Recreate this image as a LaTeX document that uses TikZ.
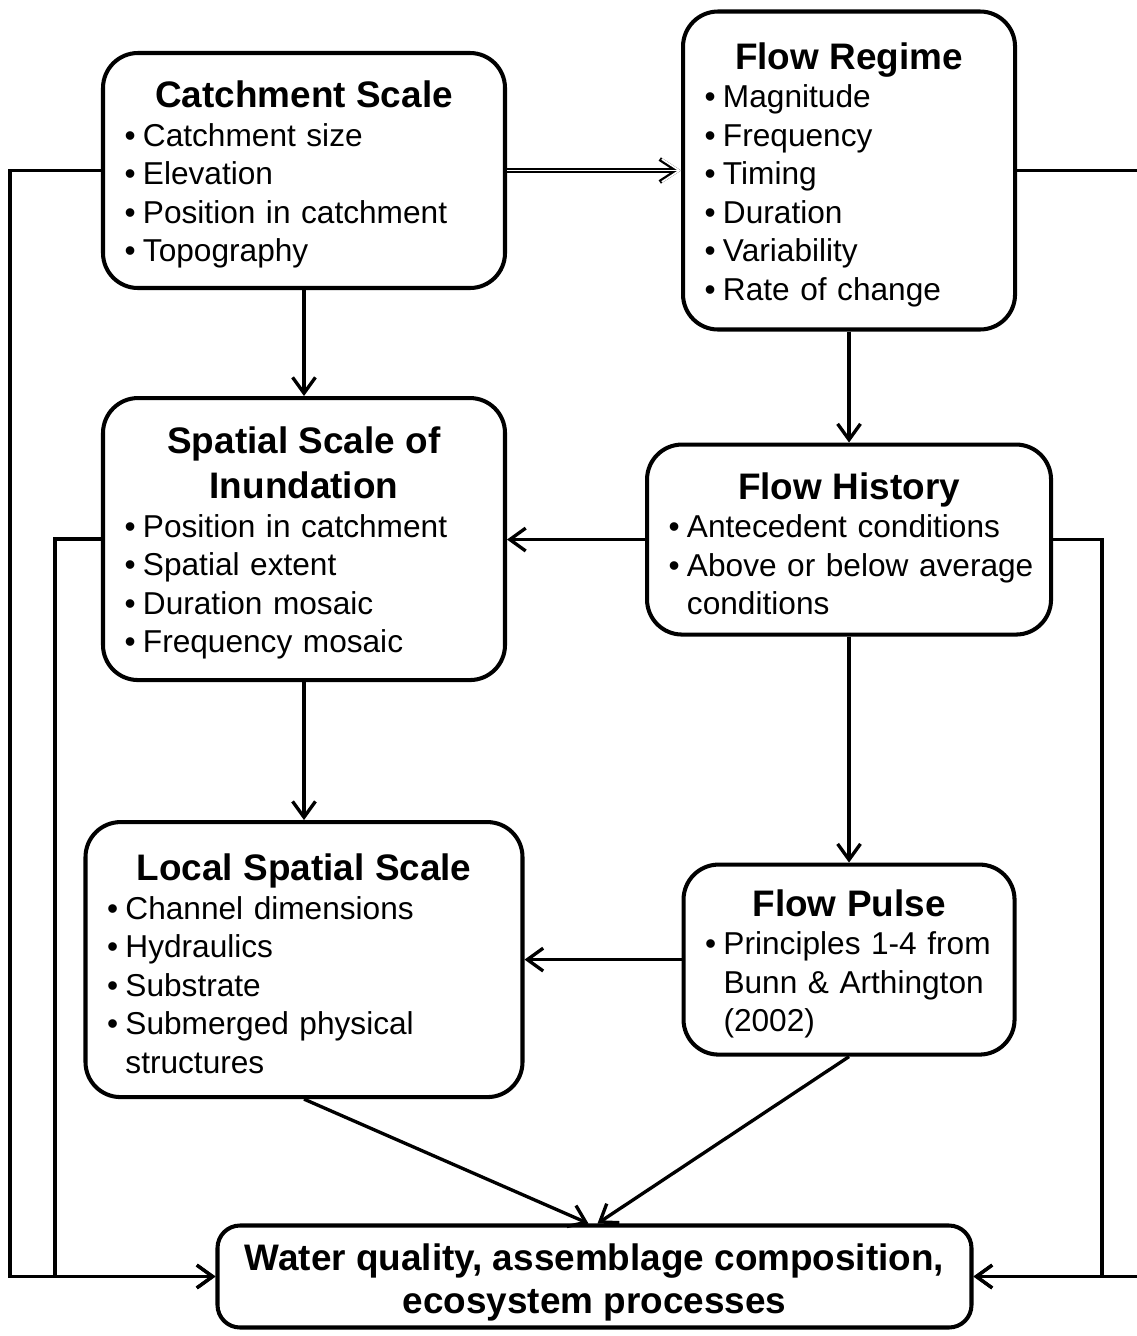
\documentclass[tikz,border=0pt]{standalone}
\usepackage{fontspec}
\setmainfont{Liberation Sans}
\usepackage{tikz}
\usetikzlibrary{arrows.meta}
\usetikzlibrary{positioning}
\newcommand{\headfont}{\fontsize{21pt}{25.6pt}\selectfont\bfseries}
\newcommand{\heading}[1]{{\centering\headfont\rule{0pt}{20pt}#1\par}}
\newcommand{\bpt}[1]{\par\noindent\makebox[10.5pt][l]{\textbullet}\mbox{#1}}
\newcommand{\bcont}[1]{\par\noindent\hspace*{10.5pt}\mbox{#1}}
\tikzstyle{scalebox} = [rectangle, rounded corners=0.7cm, draw=black, line width=2.3pt, inner xsep=0.43cm, align=left, font=\fontsize{18pt}{21.9pt}\selectfont]
\tikzstyle{sinkbox} = [rectangle, rounded corners=0.45cm, draw=black, line width=2.3pt, align=center, minimum width=15.08cm, minimum height=2.04cm, font=\fontsize{21pt}{24.5pt}\selectfont\bfseries]
\tikzstyle{arrow} = [line width=1.9pt, -{Straight Barb[length=9pt,width=13pt]}]
\tikzstyle{drift} = [line width=2.3pt, -{Straight Barb[length=10pt,width=13pt]}, postaction={draw=white, line width=1.0pt, -{Straight Barb[length=10pt,width=13pt]}}]

\begin{document}
\begin{tikzpicture}
    \useasboundingbox (0,0) rectangle (22.74,-26.72);

    \node (catch) [scalebox, minimum width=8.04cm, text width=7.18cm, minimum height=4.7cm] at (6.08,-3.41)
        {\heading{Catchment Scale}\bpt{Catchment size}\bpt{Elevation}\bpt{Position in catchment}\bpt{Topography}};
    \node (regime) [scalebox, minimum width=6.64cm, text width=5.78cm, minimum height=6.36cm, right=3.48cm of catch]
        {\heading{Flow Regime}\bpt{Magnitude}\bpt{Frequency}\bpt{Timing}\bpt{Duration}\bpt{Variability}\bpt{Rate of change}};
    \node (spatial) [scalebox, minimum width=8.04cm, text width=7.18cm, minimum height=5.64cm, below=2.12cm of catch]
        {\heading{Spatial Scale of\\Inundation}\bpt{Position in catchment}\bpt{Spatial extent}\bpt{Duration mosaic}\bpt{Frequency mosaic}};
    \node (history) [scalebox, minimum width=8.08cm, text width=7.22cm, minimum height=3.8cm, below=2.22cm of regime]
        {\heading{Flow History}\bpt{Antecedent conditions}\bpt{Above or below average}\bcont{conditions}};
    \node (local) [scalebox, minimum width=8.74cm, text width=7.88cm, minimum height=5.5cm, below=2.76cm of spatial]
        {\heading{Local Spatial Scale}\bpt{Channel dimensions}\bpt{Hydraulics}\bpt{Substrate}\bpt{Submerged physical}\bcont{structures}};
    \node (pulse) [scalebox, minimum width=6.62cm, text width=5.76cm, minimum height=3.8cm, below=4.52cm of history]
        {\heading{Flow Pulse}\bpt{Principles 1-4 from}\bcont{Bunn \& Arthington}\bcont{(2002)}};
    \node (water) [sinkbox] at (11.89,-25.53) {\rule{0pt}{22pt}Water quality, assemblage composition,\\ecosystem processes};

    \draw [drift] (catch.east) -- (catch.east -| regime.west);
    \draw [arrow] (catch)--(spatial);
    \draw [arrow] (regime)--(history);
    \draw [arrow] (history.west)--(history.west -| spatial.east);
    \draw [arrow] (spatial)--(local);
    \draw [arrow] (history)--(pulse);
    \draw [arrow] (pulse.west)--(pulse.west -| local.east);
    \draw [arrow] (local.south)--([xshift=-0.12cm]water.north);
    \draw [arrow] (pulse.south)--([xshift=0.06cm]water.north);

    \draw [arrow] (catch.west) -- ++(-1.82,0) |- (water.west);
    \draw [arrow] (spatial.west) -- ++(-0.92,0) |- (water.west);
    \draw [arrow] (regime.east) -- ++(2.6,0) |- (water.east);
    \draw [arrow] (history.east) -- ++(0.98,0) |- (water.east);

    \end{tikzpicture}
\end{document}
